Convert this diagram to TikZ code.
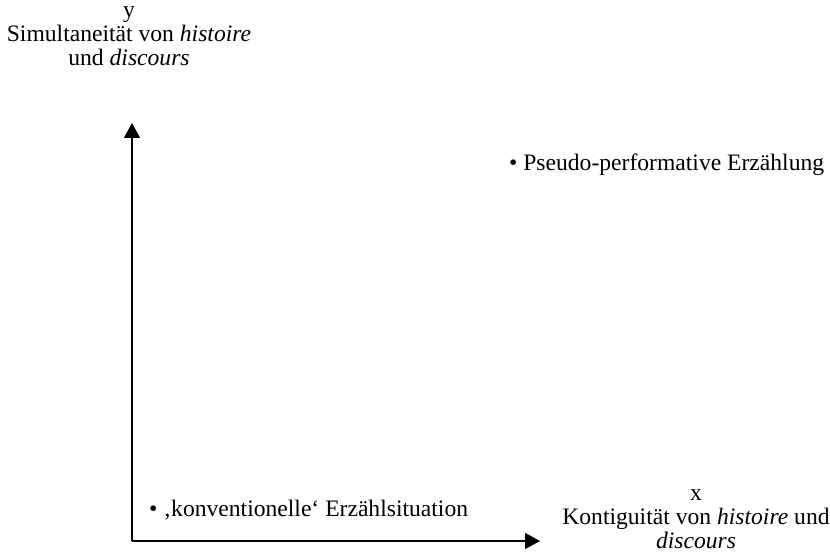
\documentclass[tikz,border=0pt]{standalone}
\usepackage{fontspec}
\setmainfont{Liberation Serif}
\usetikzlibrary{arrows.meta}
\begin{document}
\begin{tikzpicture}[x=1pt,y=-1pt,
  lbl/.style={inner sep=0pt,align=center,font=\fontsize{23.6}{24}\selectfont},
  axis/.style={line width=1.3pt,-{Triangle[length=15pt,width=16pt]}}]
\useasboundingbox (0,0) rectangle (830,553);
\coordinate (o) at (132,541);
\coordinate (ytip) at (132,123);
\coordinate (xtip) at (540,541);
\draw[axis] (o) -- (ytip);
\draw[axis] (o) -- (xtip);
\node[lbl,anchor=north] (ylab) at (129,6) {y\\Simultaneität von \textit{histoire}\\und \textit{discours}};
\node[lbl,anchor=south] (xlab) at (696,549) {x\\Kontiguität von \textit{histoire} und\\\textit{discours}};
\node[lbl,anchor=west] (konv) at (149,510) {• ‚konventionelle‘ Erzählsituation};
\node[lbl,anchor=west] (pseudo) at (509,165) {• Pseudo-performative Erzählung};
\end{tikzpicture}
\end{document}
